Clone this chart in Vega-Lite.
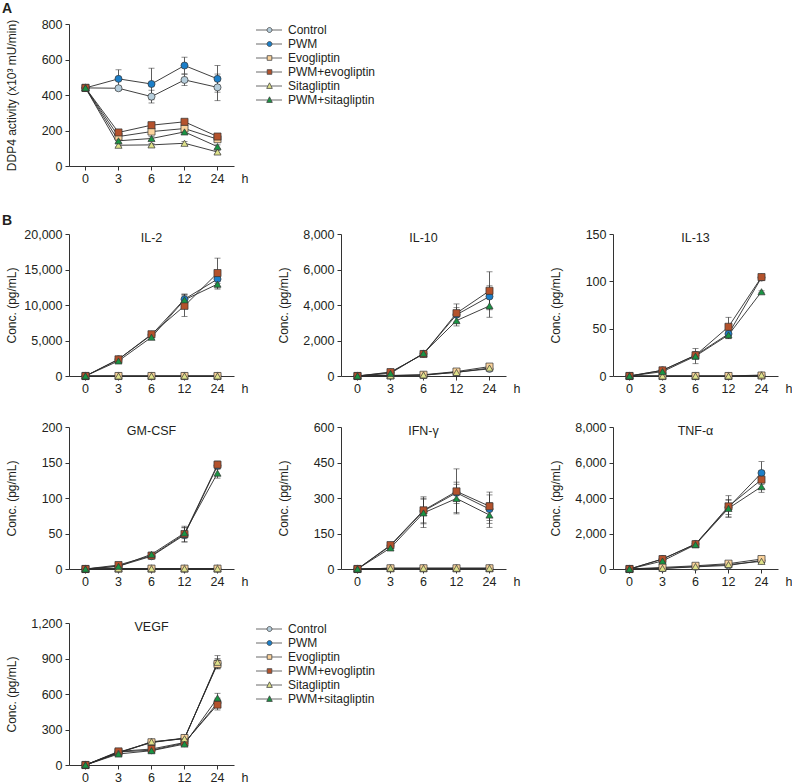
{
"$schema": "https://vega.github.io/schema/vega-lite/v6.json",
"padding": {"left": 2, "top": 1, "right": 0, "bottom": 0},
"background": "white",
"data": {"values": [
{"panel":"DDP4","group":"Control","hour":0,"value":440,"err":8},
{"panel":"DDP4","group":"Control","hour":3,"value":438,"err":12},
{"panel":"DDP4","group":"Control","hour":6,"value":391,"err":36},
{"panel":"DDP4","group":"Control","hour":12,"value":485,"err":32},
{"panel":"DDP4","group":"Control","hour":24,"value":443,"err":75},
{"panel":"DDP4","group":"PWM","hour":0,"value":440,"err":8},
{"panel":"DDP4","group":"PWM","hour":3,"value":491,"err":51},
{"panel":"DDP4","group":"PWM","hour":6,"value":462,"err":89},
{"panel":"DDP4","group":"PWM","hour":12,"value":566,"err":47},
{"panel":"DDP4","group":"PWM","hour":24,"value":491,"err":75},
{"panel":"DDP4","group":"Evogliptin","hour":0,"value":440,"err":5},
{"panel":"DDP4","group":"Evogliptin","hour":3,"value":166,"err":10},
{"panel":"DDP4","group":"Evogliptin","hour":6,"value":194,"err":12},
{"panel":"DDP4","group":"Evogliptin","hour":12,"value":211,"err":12},
{"panel":"DDP4","group":"Evogliptin","hour":24,"value":151,"err":10},
{"panel":"DDP4","group":"PWM+evogliptin","hour":0,"value":440,"err":5},
{"panel":"DDP4","group":"PWM+evogliptin","hour":3,"value":189,"err":10},
{"panel":"DDP4","group":"PWM+evogliptin","hour":6,"value":230,"err":12},
{"panel":"DDP4","group":"PWM+evogliptin","hour":12,"value":249,"err":12},
{"panel":"DDP4","group":"PWM+evogliptin","hour":24,"value":166,"err":10},
{"panel":"DDP4","group":"Sitagliptin","hour":0,"value":440,"err":5},
{"panel":"DDP4","group":"Sitagliptin","hour":3,"value":117,"err":8},
{"panel":"DDP4","group":"Sitagliptin","hour":6,"value":119,"err":8},
{"panel":"DDP4","group":"Sitagliptin","hour":12,"value":128,"err":10},
{"panel":"DDP4","group":"Sitagliptin","hour":24,"value":79,"err":8},
{"panel":"DDP4","group":"PWM+sitagliptin","hour":0,"value":440,"err":5},
{"panel":"DDP4","group":"PWM+sitagliptin","hour":3,"value":142,"err":10},
{"panel":"DDP4","group":"PWM+sitagliptin","hour":6,"value":155,"err":10},
{"panel":"DDP4","group":"PWM+sitagliptin","hour":12,"value":192,"err":12},
{"panel":"DDP4","group":"PWM+sitagliptin","hour":24,"value":109,"err":10},

{"panel":"IL-2","group":"Control","hour":0,"value":0,"err":0},
{"panel":"IL-2","group":"Control","hour":3,"value":0,"err":0},
{"panel":"IL-2","group":"Control","hour":6,"value":0,"err":0},
{"panel":"IL-2","group":"Control","hour":12,"value":0,"err":0},
{"panel":"IL-2","group":"Control","hour":24,"value":0,"err":0},
{"panel":"IL-2","group":"PWM","hour":0,"value":0,"err":0},
{"panel":"IL-2","group":"PWM","hour":3,"value":2350,"err":300},
{"panel":"IL-2","group":"PWM","hour":6,"value":5790,"err":300},
{"panel":"IL-2","group":"PWM","hour":12,"value":10820,"err":700},
{"panel":"IL-2","group":"PWM","hour":24,"value":13650,"err":600},
{"panel":"IL-2","group":"Evogliptin","hour":0,"value":0,"err":0},
{"panel":"IL-2","group":"Evogliptin","hour":3,"value":0,"err":0},
{"panel":"IL-2","group":"Evogliptin","hour":6,"value":0,"err":0},
{"panel":"IL-2","group":"Evogliptin","hour":12,"value":0,"err":0},
{"panel":"IL-2","group":"Evogliptin","hour":24,"value":0,"err":0},
{"panel":"IL-2","group":"PWM+evogliptin","hour":0,"value":0,"err":0},
{"panel":"IL-2","group":"PWM+evogliptin","hour":3,"value":2350,"err":300},
{"panel":"IL-2","group":"PWM+evogliptin","hour":6,"value":5880,"err":300},
{"panel":"IL-2","group":"PWM+evogliptin","hour":12,"value":9880,"err":1500},
{"panel":"IL-2","group":"PWM+evogliptin","hour":24,"value":14500,"err":2100},
{"panel":"IL-2","group":"Sitagliptin","hour":0,"value":0,"err":0},
{"panel":"IL-2","group":"Sitagliptin","hour":3,"value":0,"err":0},
{"panel":"IL-2","group":"Sitagliptin","hour":6,"value":0,"err":0},
{"panel":"IL-2","group":"Sitagliptin","hour":12,"value":0,"err":0},
{"panel":"IL-2","group":"Sitagliptin","hour":24,"value":0,"err":0},
{"panel":"IL-2","group":"PWM+sitagliptin","hour":0,"value":0,"err":0},
{"panel":"IL-2","group":"PWM+sitagliptin","hour":3,"value":2120,"err":250},
{"panel":"IL-2","group":"PWM+sitagliptin","hour":6,"value":5460,"err":300},
{"panel":"IL-2","group":"PWM+sitagliptin","hour":12,"value":10730,"err":800},
{"panel":"IL-2","group":"PWM+sitagliptin","hour":24,"value":12940,"err":700},

{"panel":"IL-10","group":"Control","hour":0,"value":0,"err":0},
{"panel":"IL-10","group":"Control","hour":3,"value":20,"err":0},
{"panel":"IL-10","group":"Control","hour":6,"value":40,"err":0},
{"panel":"IL-10","group":"Control","hour":12,"value":220,"err":40},
{"panel":"IL-10","group":"Control","hour":24,"value":400,"err":60},
{"panel":"IL-10","group":"PWM","hour":0,"value":0,"err":0},
{"panel":"IL-10","group":"PWM","hour":3,"value":200,"err":50},
{"panel":"IL-10","group":"PWM","hour":6,"value":1250,"err":100},
{"panel":"IL-10","group":"PWM","hour":12,"value":3450,"err":400},
{"panel":"IL-10","group":"PWM","hour":24,"value":4480,"err":600},
{"panel":"IL-10","group":"Evogliptin","hour":0,"value":0,"err":0},
{"panel":"IL-10","group":"Evogliptin","hour":3,"value":30,"err":0},
{"panel":"IL-10","group":"Evogliptin","hour":6,"value":70,"err":0},
{"panel":"IL-10","group":"Evogliptin","hour":12,"value":250,"err":50},
{"panel":"IL-10","group":"Evogliptin","hour":24,"value":530,"err":100},
{"panel":"IL-10","group":"PWM+evogliptin","hour":0,"value":0,"err":0},
{"panel":"IL-10","group":"PWM+evogliptin","hour":3,"value":220,"err":50},
{"panel":"IL-10","group":"PWM+evogliptin","hour":6,"value":1240,"err":100},
{"panel":"IL-10","group":"PWM+evogliptin","hour":12,"value":3540,"err":520},
{"panel":"IL-10","group":"PWM+evogliptin","hour":24,"value":4800,"err":1070},
{"panel":"IL-10","group":"Sitagliptin","hour":0,"value":0,"err":0},
{"panel":"IL-10","group":"Sitagliptin","hour":3,"value":20,"err":0},
{"panel":"IL-10","group":"Sitagliptin","hour":6,"value":60,"err":0},
{"panel":"IL-10","group":"Sitagliptin","hour":12,"value":200,"err":40},
{"panel":"IL-10","group":"Sitagliptin","hour":24,"value":450,"err":80},
{"panel":"IL-10","group":"PWM+sitagliptin","hour":0,"value":0,"err":0},
{"panel":"IL-10","group":"PWM+sitagliptin","hour":3,"value":150,"err":40},
{"panel":"IL-10","group":"PWM+sitagliptin","hour":6,"value":1280,"err":100},
{"panel":"IL-10","group":"PWM+sitagliptin","hour":12,"value":3120,"err":300},
{"panel":"IL-10","group":"PWM+sitagliptin","hour":24,"value":3950,"err":640},

{"panel":"IL-13","group":"Control","hour":0,"value":0,"err":0},
{"panel":"IL-13","group":"Control","hour":3,"value":0,"err":0},
{"panel":"IL-13","group":"Control","hour":6,"value":0,"err":0},
{"panel":"IL-13","group":"Control","hour":12,"value":0,"err":0},
{"panel":"IL-13","group":"Control","hour":24,"value":0.5,"err":0},
{"panel":"IL-13","group":"PWM","hour":0,"value":0,"err":0},
{"panel":"IL-13","group":"PWM","hour":3,"value":6,"err":1},
{"panel":"IL-13","group":"PWM","hour":6,"value":22,"err":3},
{"panel":"IL-13","group":"PWM","hour":12,"value":44.5,"err":5},
{"panel":"IL-13","group":"PWM","hour":24,"value":104,"err":2},
{"panel":"IL-13","group":"Evogliptin","hour":0,"value":0,"err":0},
{"panel":"IL-13","group":"Evogliptin","hour":3,"value":0,"err":0},
{"panel":"IL-13","group":"Evogliptin","hour":6,"value":0,"err":0},
{"panel":"IL-13","group":"Evogliptin","hour":12,"value":0,"err":0},
{"panel":"IL-13","group":"Evogliptin","hour":24,"value":0.5,"err":0},
{"panel":"IL-13","group":"PWM+evogliptin","hour":0,"value":0,"err":0},
{"panel":"IL-13","group":"PWM+evogliptin","hour":3,"value":6,"err":1},
{"panel":"IL-13","group":"PWM+evogliptin","hour":6,"value":21.9,"err":4},
{"panel":"IL-13","group":"PWM+evogliptin","hour":12,"value":52,"err":10},
{"panel":"IL-13","group":"PWM+evogliptin","hour":24,"value":104.5,"err":2},
{"panel":"IL-13","group":"Sitagliptin","hour":0,"value":0,"err":0},
{"panel":"IL-13","group":"Sitagliptin","hour":3,"value":0,"err":0},
{"panel":"IL-13","group":"Sitagliptin","hour":6,"value":0,"err":0},
{"panel":"IL-13","group":"Sitagliptin","hour":12,"value":0,"err":0},
{"panel":"IL-13","group":"Sitagliptin","hour":24,"value":1,"err":0},
{"panel":"IL-13","group":"PWM+sitagliptin","hour":0,"value":0,"err":0},
{"panel":"IL-13","group":"PWM+sitagliptin","hour":3,"value":4.6,"err":1},
{"panel":"IL-13","group":"PWM+sitagliptin","hour":6,"value":21,"err":8},
{"panel":"IL-13","group":"PWM+sitagliptin","hour":12,"value":43.4,"err":4},
{"panel":"IL-13","group":"PWM+sitagliptin","hour":24,"value":89,"err":1},

{"panel":"GM-CSF","group":"Control","hour":0,"value":0,"err":0},
{"panel":"GM-CSF","group":"Control","hour":3,"value":0.5,"err":0},
{"panel":"GM-CSF","group":"Control","hour":6,"value":0.5,"err":0},
{"panel":"GM-CSF","group":"Control","hour":12,"value":0.5,"err":0},
{"panel":"GM-CSF","group":"Control","hour":24,"value":0.5,"err":0},
{"panel":"GM-CSF","group":"PWM","hour":0,"value":0,"err":0},
{"panel":"GM-CSF","group":"PWM","hour":3,"value":4,"err":1},
{"panel":"GM-CSF","group":"PWM","hour":6,"value":18,"err":3},
{"panel":"GM-CSF","group":"PWM","hour":12,"value":48,"err":10},
{"panel":"GM-CSF","group":"PWM","hour":24,"value":145.5,"err":5},
{"panel":"GM-CSF","group":"Evogliptin","hour":0,"value":0,"err":0},
{"panel":"GM-CSF","group":"Evogliptin","hour":3,"value":0.5,"err":0},
{"panel":"GM-CSF","group":"Evogliptin","hour":6,"value":0.5,"err":0},
{"panel":"GM-CSF","group":"Evogliptin","hour":12,"value":0.5,"err":0},
{"panel":"GM-CSF","group":"Evogliptin","hour":24,"value":0.5,"err":0},
{"panel":"GM-CSF","group":"PWM+evogliptin","hour":0,"value":0,"err":0},
{"panel":"GM-CSF","group":"PWM+evogliptin","hour":3,"value":5.6,"err":1},
{"panel":"GM-CSF","group":"PWM+evogliptin","hour":6,"value":18.8,"err":4},
{"panel":"GM-CSF","group":"PWM+evogliptin","hour":12,"value":49.3,"err":11},
{"panel":"GM-CSF","group":"PWM+evogliptin","hour":24,"value":147,"err":5},
{"panel":"GM-CSF","group":"Sitagliptin","hour":0,"value":0,"err":0},
{"panel":"GM-CSF","group":"Sitagliptin","hour":3,"value":0.5,"err":0},
{"panel":"GM-CSF","group":"Sitagliptin","hour":6,"value":0.5,"err":0},
{"panel":"GM-CSF","group":"Sitagliptin","hour":12,"value":0.5,"err":0},
{"panel":"GM-CSF","group":"Sitagliptin","hour":24,"value":0.5,"err":0},
{"panel":"GM-CSF","group":"PWM+sitagliptin","hour":0,"value":0,"err":0},
{"panel":"GM-CSF","group":"PWM+sitagliptin","hour":3,"value":3.8,"err":1},
{"panel":"GM-CSF","group":"PWM+sitagliptin","hour":6,"value":20.7,"err":3},
{"panel":"GM-CSF","group":"PWM+sitagliptin","hour":12,"value":50.7,"err":8},
{"panel":"GM-CSF","group":"PWM+sitagliptin","hour":24,"value":135,"err":7},

{"panel":"IFN-γ","group":"Control","hour":0,"value":0,"err":0},
{"panel":"IFN-γ","group":"Control","hour":3,"value":3,"err":0},
{"panel":"IFN-γ","group":"Control","hour":6,"value":3,"err":0},
{"panel":"IFN-γ","group":"Control","hour":12,"value":3,"err":0},
{"panel":"IFN-γ","group":"Control","hour":24,"value":3,"err":0},
{"panel":"IFN-γ","group":"PWM","hour":0,"value":0,"err":0},
{"panel":"IFN-γ","group":"PWM","hour":3,"value":98,"err":8},
{"panel":"IFN-γ","group":"PWM","hour":6,"value":245,"err":50},
{"panel":"IFN-γ","group":"PWM","hour":12,"value":322,"err":45},
{"panel":"IFN-γ","group":"PWM","hour":24,"value":253,"err":60},
{"panel":"IFN-γ","group":"Evogliptin","hour":0,"value":0,"err":0},
{"panel":"IFN-γ","group":"Evogliptin","hour":3,"value":3,"err":0},
{"panel":"IFN-γ","group":"Evogliptin","hour":6,"value":3,"err":0},
{"panel":"IFN-γ","group":"Evogliptin","hour":12,"value":3,"err":0},
{"panel":"IFN-γ","group":"Evogliptin","hour":24,"value":3,"err":0},
{"panel":"IFN-γ","group":"PWM+evogliptin","hour":0,"value":0,"err":0},
{"panel":"IFN-γ","group":"PWM+evogliptin","hour":3,"value":101,"err":8},
{"panel":"IFN-γ","group":"PWM+evogliptin","hour":6,"value":248,"err":57},
{"panel":"IFN-γ","group":"PWM+evogliptin","hour":12,"value":328,"err":95},
{"panel":"IFN-γ","group":"PWM+evogliptin","hour":24,"value":265,"err":60},
{"panel":"IFN-γ","group":"Sitagliptin","hour":0,"value":0,"err":0},
{"panel":"IFN-γ","group":"Sitagliptin","hour":3,"value":3,"err":0},
{"panel":"IFN-γ","group":"Sitagliptin","hour":6,"value":3,"err":0},
{"panel":"IFN-γ","group":"Sitagliptin","hour":12,"value":3,"err":0},
{"panel":"IFN-γ","group":"Sitagliptin","hour":24,"value":3,"err":0},
{"panel":"IFN-γ","group":"PWM+sitagliptin","hour":0,"value":0,"err":0},
{"panel":"IFN-γ","group":"PWM+sitagliptin","hour":3,"value":89,"err":8},
{"panel":"IFN-γ","group":"PWM+sitagliptin","hour":6,"value":237,"err":62},
{"panel":"IFN-γ","group":"PWM+sitagliptin","hour":12,"value":298,"err":60},
{"panel":"IFN-γ","group":"PWM+sitagliptin","hour":24,"value":228,"err":52},

{"panel":"TNF-α","group":"Control","hour":0,"value":0,"err":0},
{"panel":"TNF-α","group":"Control","hour":3,"value":30,"err":0},
{"panel":"TNF-α","group":"Control","hour":6,"value":120,"err":20},
{"panel":"TNF-α","group":"Control","hour":12,"value":200,"err":30},
{"panel":"TNF-α","group":"Control","hour":24,"value":480,"err":60},
{"panel":"TNF-α","group":"PWM","hour":0,"value":0,"err":0},
{"panel":"TNF-α","group":"PWM","hour":3,"value":563,"err":60},
{"panel":"TNF-α","group":"PWM","hour":6,"value":1408,"err":80},
{"panel":"TNF-α","group":"PWM","hour":12,"value":3474,"err":400},
{"panel":"TNF-α","group":"PWM","hour":24,"value":5409,"err":640},
{"panel":"TNF-α","group":"Evogliptin","hour":0,"value":0,"err":0},
{"panel":"TNF-α","group":"Evogliptin","hour":3,"value":90,"err":0},
{"panel":"TNF-α","group":"Evogliptin","hour":6,"value":180,"err":20},
{"panel":"TNF-α","group":"Evogliptin","hour":12,"value":300,"err":30},
{"panel":"TNF-α","group":"Evogliptin","hour":24,"value":560,"err":80},
{"panel":"TNF-α","group":"PWM+evogliptin","hour":0,"value":0,"err":0},
{"panel":"TNF-α","group":"PWM+evogliptin","hour":3,"value":560,"err":60},
{"panel":"TNF-α","group":"PWM+evogliptin","hour":6,"value":1400,"err":80},
{"panel":"TNF-α","group":"PWM+evogliptin","hour":12,"value":3530,"err":600},
{"panel":"TNF-α","group":"PWM+evogliptin","hour":24,"value":5033,"err":500},
{"panel":"TNF-α","group":"Sitagliptin","hour":0,"value":0,"err":0},
{"panel":"TNF-α","group":"Sitagliptin","hour":3,"value":40,"err":0},
{"panel":"TNF-α","group":"Sitagliptin","hour":6,"value":140,"err":20},
{"panel":"TNF-α","group":"Sitagliptin","hour":12,"value":250,"err":30},
{"panel":"TNF-α","group":"Sitagliptin","hour":24,"value":430,"err":60},
{"panel":"TNF-α","group":"PWM+sitagliptin","hour":0,"value":0,"err":0},
{"panel":"TNF-α","group":"PWM+sitagliptin","hour":3,"value":450,"err":60},
{"panel":"TNF-α","group":"PWM+sitagliptin","hour":6,"value":1370,"err":80},
{"panel":"TNF-α","group":"PWM+sitagliptin","hour":12,"value":3418,"err":500},
{"panel":"TNF-α","group":"PWM+sitagliptin","hour":24,"value":4640,"err":320},

{"panel":"VEGF","group":"Control","hour":0,"value":0,"err":0},
{"panel":"VEGF","group":"Control","hour":3,"value":105,"err":10},
{"panel":"VEGF","group":"Control","hour":6,"value":190,"err":15},
{"panel":"VEGF","group":"Control","hour":12,"value":225,"err":20},
{"panel":"VEGF","group":"Control","hour":24,"value":860,"err":40},
{"panel":"VEGF","group":"PWM","hour":0,"value":0,"err":0},
{"panel":"VEGF","group":"PWM","hour":3,"value":110,"err":10},
{"panel":"VEGF","group":"PWM","hour":6,"value":125,"err":15},
{"panel":"VEGF","group":"PWM","hour":12,"value":185,"err":15},
{"panel":"VEGF","group":"PWM","hour":24,"value":525,"err":40},
{"panel":"VEGF","group":"Evogliptin","hour":0,"value":0,"err":0},
{"panel":"VEGF","group":"Evogliptin","hour":3,"value":108,"err":10},
{"panel":"VEGF","group":"Evogliptin","hour":6,"value":192,"err":15},
{"panel":"VEGF","group":"Evogliptin","hour":12,"value":228,"err":15},
{"panel":"VEGF","group":"Evogliptin","hour":24,"value":853,"err":35},
{"panel":"VEGF","group":"PWM+evogliptin","hour":0,"value":0,"err":0},
{"panel":"VEGF","group":"PWM+evogliptin","hour":3,"value":115,"err":10},
{"panel":"VEGF","group":"PWM+evogliptin","hour":6,"value":135,"err":15},
{"panel":"VEGF","group":"PWM+evogliptin","hour":12,"value":190,"err":15},
{"panel":"VEGF","group":"PWM+evogliptin","hour":24,"value":510,"err":45},
{"panel":"VEGF","group":"Sitagliptin","hour":0,"value":0,"err":0},
{"panel":"VEGF","group":"Sitagliptin","hour":3,"value":100,"err":10},
{"panel":"VEGF","group":"Sitagliptin","hour":6,"value":197,"err":15},
{"panel":"VEGF","group":"Sitagliptin","hour":12,"value":222,"err":15},
{"panel":"VEGF","group":"Sitagliptin","hour":24,"value":868,"err":56},
{"panel":"VEGF","group":"PWM+sitagliptin","hour":0,"value":0,"err":0},
{"panel":"VEGF","group":"PWM+sitagliptin","hour":3,"value":93,"err":10},
{"panel":"VEGF","group":"PWM+sitagliptin","hour":6,"value":121,"err":15},
{"panel":"VEGF","group":"PWM+sitagliptin","hour":12,"value":177,"err":15},
{"panel":"VEGF","group":"PWM+sitagliptin","hour":24,"value":566,"err":40}
]},
"config": {
  "font": "Liberation Sans",
  "view": {"stroke": null},
  "axis": {"grid": false, "domainColor": "#333333", "tickColor": "#333333", "tickSize": 4, "labelFontSize": 12.5, "labelColor": "#231f20", "titleFontSize": 12, "titleFontWeight": "normal", "titleColor": "#231f20", "labelPadding": 3, "domainWidth": 1, "tickWidth": 1, "labelFont": "Liberation Sans", "titleFont": "Liberation Sans"},
  "axisY": {"minExtent": 47, "maxExtent": 47, "titlePadding": 4},
  "axisX": {"labelAngle": 0, "labelPadding": 2},
  "title": {"fontSize": 12.5, "fontWeight": "normal", "color": "#231f20", "font": "Liberation Sans"},
  "legend": {"title": null, "padding": 0, "labelOffset": 24, "symbolSize": 64, "rowPadding": 2, "labelFontSize": 12, "labelFont": "Liberation Sans", "labelColor": "#231f20", "symbolStrokeWidth": 0.8, "symbolStrokeColor": "#444444"}
},
"resolve": {"legend": {"color": "independent", "shape": "independent"}},
"spacing": 29,
"vconcat": [
{
  "width": 165, "height": 142,
  "title": {"text": "A", "anchor": "start", "frame": "bounds", "fontSize": 14, "fontWeight": "bold", "baseline": "alphabetic", "offset": -8.5, "dx": -3},
  "transform": [{"filter": {"field": "panel", "equal": "DDP4"}}],
  "encoding": {
    "x": {"field": "hour", "type": "ordinal", "axis": {"title": "h", "titleX": 172, "titleY": 6, "titleAlign": "left", "titleBaseline": "top", "titleAngle": 0, "titleFontSize": 12.5, "titleColor": "#231f20"}},
    "y": {"field": "value", "type": "quantitative", "scale": {"domain": [0, 800]}, "axis": {"title": "DDP4 activity (x10³ mU/min)", "values": [0, 200, 400, 600, 800], "format": ",.0f"}}
  },
  "resolve": {"scale": {"color": "independent", "shape": "independent"}},
  "layer": [
    {"transform": [{"filter": "datum.err > 0"}], "mark": {"type": "errorbar", "ticks": true, "size": 6, "thickness": 0.8, "color": "#333333"}, "encoding": {"yError": {"field": "err"}}},
    {"mark": {"type": "line", "color": "#2a2a2a", "strokeWidth": 0.9}, "encoding": {"detail": {"field": "group"}}},
    {"mark": {"type": "point", "filled": true, "size": 50, "stroke": "#333333", "strokeWidth": 0.7, "opacity": 1},
     "encoding": {
       "color": {"field": "group", "type": "nominal", "scale": {"domain": ["Control","PWM","Evogliptin","PWM+evogliptin","Sitagliptin","PWM+sitagliptin"], "range": ["#b5cddb","#1c7fc9","#fbd39c","#b4522c","#dfe28a","#199443"]}, "legend": null},
       "shape": {"field": "group", "type": "nominal", "scale": {"domain": ["Control","PWM","Evogliptin","PWM+evogliptin","Sitagliptin","PWM+sitagliptin"], "range": ["circle","circle","square","square","triangle-up","triangle-up"]}, "legend": null}
     }},
    {"transform": [{"filter": "false"}],
     "mark": {"type": "point", "filled": true, "opacity": 1, "stroke": "#444444", "strokeWidth": 0.8},
     "encoding": {
       "color": {"field": "group", "type": "nominal", "scale": {"domain": ["Control","PWM","Evogliptin","PWM+evogliptin","Sitagliptin","PWM+sitagliptin"], "range": ["#b5cddb","#1c7fc9","#fbd39c","#b4522c","#dfe28a","#199443"]}, "legend": {"title": null}},
       "shape": {"field": "group", "type": "nominal", "scale": {"domain": ["Control","PWM","Evogliptin","PWM+evogliptin","Sitagliptin","PWM+sitagliptin"], "range": [
         "M-0.5,0H2.255M3.495,0H6M3.495,0A0.62,0.62,0,1,1,2.255,0A0.62,0.62,0,1,1,3.495,0Z",
         "M-0.5,0H2.255M3.495,0H6M3.495,0A0.62,0.62,0,1,1,2.255,0A0.62,0.62,0,1,1,3.495,0Z",
         "M-0.5,0H2.295M3.455,0H6M2.295,-0.58H3.455V0.58H2.295Z",
         "M-0.5,0H2.295M3.455,0H6M2.295,-0.58H3.455V0.58H2.295Z",
         "M-0.5,0H2.475M3.275,0H6M2.875,-0.8L3.575,0.6H2.175Z",
         "M-0.5,0H2.475M3.275,0H6M2.875,-0.8L3.575,0.6H2.175Z"]}, "legend": {"title": null}}
     }}
  ]
},
{
  "spacing": 26,
  "resolve": {"legend": {"color": "independent", "shape": "independent"}},
  "vconcat": [
  {
    "title": {"text": "B", "anchor": "start", "frame": "bounds", "fontSize": 14, "fontWeight": "bold", "baseline": "alphabetic", "offset": -11, "dx": -3},
    "spacing": 29,
    "resolve": {"legend": {"color": "independent", "shape": "independent"}},
    "hconcat": [
    {
      "width": 165, "height": 142,
      "title": {"text": "IL-2", "offset": -22, "baseline": "middle", "frame": "group"},
      "transform": [{"filter": {"field": "panel", "equal": "IL-2"}}],
      "encoding": {
        "x": {"field": "hour", "type": "ordinal", "axis": {"title": "h", "titleX": 172, "titleY": 6, "titleAlign": "left", "titleBaseline": "top", "titleAngle": 0, "titleFontSize": 12.5, "titleColor": "#231f20"}},
        "y": {"field": "value", "type": "quantitative", "scale": {"domain": [0, 20000]}, "axis": {"title": "Conc. (pg/mL)", "values": [0, 5000, 10000, 15000, 20000], "format": ",.0f"}}
      },
      "layer": [
        {"transform": [{"filter": "datum.err > 0"}], "mark": {"type": "errorbar", "ticks": true, "size": 6, "thickness": 0.8, "color": "#333333"}, "encoding": {"yError": {"field": "err"}}},
        {"mark": {"type": "line", "color": "#2a2a2a", "strokeWidth": 0.9}, "encoding": {"detail": {"field": "group"}}},
        {"mark": {"type": "point", "filled": true, "size": 50, "stroke": "#333333", "strokeWidth": 0.7, "opacity": 1},
         "encoding": {
           "color": {"field": "group", "type": "nominal", "scale": {"domain": ["Control","PWM","Evogliptin","PWM+evogliptin","Sitagliptin","PWM+sitagliptin"], "range": ["#b5cddb","#1c7fc9","#fbd39c","#b4522c","#dfe28a","#199443"]}, "legend": null},
           "shape": {"field": "group", "type": "nominal", "scale": {"domain": ["PWM","Control","PWM+evogliptin","Evogliptin","PWM+sitagliptin","Sitagliptin"], "range": ["circle","circle","square","square","triangle-up","triangle-up"]}, "legend": null}
         }}
      ]
    },
    {
      "width": 165, "height": 142,
      "title": {"text": "IL-10", "offset": -22, "baseline": "middle", "frame": "group"},
      "transform": [{"filter": {"field": "panel", "equal": "IL-10"}}],
      "encoding": {
        "x": {"field": "hour", "type": "ordinal", "axis": {"title": "h", "titleX": 172, "titleY": 6, "titleAlign": "left", "titleBaseline": "top", "titleAngle": 0, "titleFontSize": 12.5, "titleColor": "#231f20"}},
        "y": {"field": "value", "type": "quantitative", "scale": {"domain": [0, 8000]}, "axis": {"title": "Conc. (pg/mL)", "values": [0, 2000, 4000, 6000, 8000], "format": ",.0f"}}
      },
      "layer": [
        {"transform": [{"filter": "datum.err > 0"}], "mark": {"type": "errorbar", "ticks": true, "size": 6, "thickness": 0.8, "color": "#333333"}, "encoding": {"yError": {"field": "err"}}},
        {"mark": {"type": "line", "color": "#2a2a2a", "strokeWidth": 0.9}, "encoding": {"detail": {"field": "group"}}},
        {"mark": {"type": "point", "filled": true, "size": 50, "stroke": "#333333", "strokeWidth": 0.7, "opacity": 1},
         "encoding": {
           "color": {"field": "group", "type": "nominal", "scale": {"domain": ["Control","PWM","Evogliptin","PWM+evogliptin","Sitagliptin","PWM+sitagliptin"], "range": ["#b5cddb","#1c7fc9","#fbd39c","#b4522c","#dfe28a","#199443"]}, "legend": null},
           "shape": {"field": "group", "type": "nominal", "scale": {"domain": ["PWM","Control","PWM+evogliptin","Evogliptin","PWM+sitagliptin","Sitagliptin"], "range": ["circle","circle","square","square","triangle-up","triangle-up"]}, "legend": null}
         }}
      ]
    },
    {
      "width": 165, "height": 142,
      "title": {"text": "IL-13", "offset": -22, "baseline": "middle", "frame": "group"},
      "transform": [{"filter": {"field": "panel", "equal": "IL-13"}}],
      "encoding": {
        "x": {"field": "hour", "type": "ordinal", "axis": {"title": "h", "titleX": 172, "titleY": 6, "titleAlign": "left", "titleBaseline": "top", "titleAngle": 0, "titleFontSize": 12.5, "titleColor": "#231f20"}},
        "y": {"field": "value", "type": "quantitative", "scale": {"domain": [0, 150]}, "axis": {"title": "Conc. (pg/mL)", "values": [0, 50, 100, 150], "format": ",.0f"}}
      },
      "layer": [
        {"transform": [{"filter": "datum.err > 0"}], "mark": {"type": "errorbar", "ticks": true, "size": 6, "thickness": 0.8, "color": "#333333"}, "encoding": {"yError": {"field": "err"}}},
        {"mark": {"type": "line", "color": "#2a2a2a", "strokeWidth": 0.9}, "encoding": {"detail": {"field": "group"}}},
        {"mark": {"type": "point", "filled": true, "size": 50, "stroke": "#333333", "strokeWidth": 0.7, "opacity": 1},
         "encoding": {
           "color": {"field": "group", "type": "nominal", "scale": {"domain": ["Control","PWM","Evogliptin","PWM+evogliptin","Sitagliptin","PWM+sitagliptin"], "range": ["#b5cddb","#1c7fc9","#fbd39c","#b4522c","#dfe28a","#199443"]}, "legend": null},
           "shape": {"field": "group", "type": "nominal", "scale": {"domain": ["PWM","Control","PWM+evogliptin","Evogliptin","PWM+sitagliptin","Sitagliptin"], "range": ["circle","circle","square","square","triangle-up","triangle-up"]}, "legend": null}
         }}
      ]
    }
    ]
  },
  {
    "spacing": 29,
    "resolve": {"legend": {"color": "independent", "shape": "independent"}},
    "vconcat": [
    {
      "spacing": 29,
      "resolve": {"legend": {"color": "independent", "shape": "independent"}},
      "hconcat": [
      {
        "width": 165, "height": 142,
        "title": {"text": "GM-CSF", "offset": -22, "baseline": "middle", "frame": "group"},
        "transform": [{"filter": {"field": "panel", "equal": "GM-CSF"}}],
        "encoding": {
          "x": {"field": "hour", "type": "ordinal", "axis": {"title": "h", "titleX": 172, "titleY": 6, "titleAlign": "left", "titleBaseline": "top", "titleAngle": 0, "titleFontSize": 12.5, "titleColor": "#231f20"}},
          "y": {"field": "value", "type": "quantitative", "scale": {"domain": [0, 200]}, "axis": {"title": "Conc. (pg/mL)", "values": [0, 50, 100, 150, 200], "format": ",.0f"}}
        },
        "layer": [
          {"transform": [{"filter": "datum.err > 0"}], "mark": {"type": "errorbar", "ticks": true, "size": 6, "thickness": 0.8, "color": "#333333"}, "encoding": {"yError": {"field": "err"}}},
          {"mark": {"type": "line", "color": "#2a2a2a", "strokeWidth": 0.9}, "encoding": {"detail": {"field": "group"}}},
          {"mark": {"type": "point", "filled": true, "size": 50, "stroke": "#333333", "strokeWidth": 0.7, "opacity": 1},
           "encoding": {
             "color": {"field": "group", "type": "nominal", "scale": {"domain": ["Control","PWM","Evogliptin","PWM+evogliptin","Sitagliptin","PWM+sitagliptin"], "range": ["#b5cddb","#1c7fc9","#fbd39c","#b4522c","#dfe28a","#199443"]}, "legend": null},
             "shape": {"field": "group", "type": "nominal", "scale": {"domain": ["PWM","Control","PWM+evogliptin","Evogliptin","PWM+sitagliptin","Sitagliptin"], "range": ["circle","circle","square","square","triangle-up","triangle-up"]}, "legend": null}
           }}
        ]
      },
      {
        "width": 165, "height": 142,
        "title": {"text": "IFN-γ", "offset": -22, "baseline": "middle", "frame": "group"},
        "transform": [{"filter": {"field": "panel", "equal": "IFN-γ"}}],
        "encoding": {
          "x": {"field": "hour", "type": "ordinal", "axis": {"title": "h", "titleX": 172, "titleY": 6, "titleAlign": "left", "titleBaseline": "top", "titleAngle": 0, "titleFontSize": 12.5, "titleColor": "#231f20"}},
          "y": {"field": "value", "type": "quantitative", "scale": {"domain": [0, 600]}, "axis": {"title": "Conc. (pg/mL)", "values": [0, 150, 300, 450, 600], "format": ",.0f"}}
        },
        "layer": [
          {"transform": [{"filter": "datum.err > 0"}], "mark": {"type": "errorbar", "ticks": true, "size": 6, "thickness": 0.8, "color": "#333333"}, "encoding": {"yError": {"field": "err"}}},
          {"mark": {"type": "line", "color": "#2a2a2a", "strokeWidth": 0.9}, "encoding": {"detail": {"field": "group"}}},
          {"mark": {"type": "point", "filled": true, "size": 50, "stroke": "#333333", "strokeWidth": 0.7, "opacity": 1},
           "encoding": {
             "color": {"field": "group", "type": "nominal", "scale": {"domain": ["Control","PWM","Evogliptin","PWM+evogliptin","Sitagliptin","PWM+sitagliptin"], "range": ["#b5cddb","#1c7fc9","#fbd39c","#b4522c","#dfe28a","#199443"]}, "legend": null},
             "shape": {"field": "group", "type": "nominal", "scale": {"domain": ["PWM","Control","PWM+evogliptin","Evogliptin","PWM+sitagliptin","Sitagliptin"], "range": ["circle","circle","square","square","triangle-up","triangle-up"]}, "legend": null}
           }}
        ]
      },
      {
        "width": 165, "height": 142,
        "title": {"text": "TNF-α", "offset": -22, "baseline": "middle", "frame": "group"},
        "transform": [{"filter": {"field": "panel", "equal": "TNF-α"}}],
        "encoding": {
          "x": {"field": "hour", "type": "ordinal", "axis": {"title": "h", "titleX": 172, "titleY": 6, "titleAlign": "left", "titleBaseline": "top", "titleAngle": 0, "titleFontSize": 12.5, "titleColor": "#231f20"}},
          "y": {"field": "value", "type": "quantitative", "scale": {"domain": [0, 8000]}, "axis": {"title": "Conc. (pg/mL)", "values": [0, 2000, 4000, 6000, 8000], "format": ",.0f"}}
        },
        "layer": [
          {"transform": [{"filter": "datum.err > 0"}], "mark": {"type": "errorbar", "ticks": true, "size": 6, "thickness": 0.8, "color": "#333333"}, "encoding": {"yError": {"field": "err"}}},
          {"mark": {"type": "line", "color": "#2a2a2a", "strokeWidth": 0.9}, "encoding": {"detail": {"field": "group"}}},
          {"mark": {"type": "point", "filled": true, "size": 50, "stroke": "#333333", "strokeWidth": 0.7, "opacity": 1},
           "encoding": {
             "color": {"field": "group", "type": "nominal", "scale": {"domain": ["Control","PWM","Evogliptin","PWM+evogliptin","Sitagliptin","PWM+sitagliptin"], "range": ["#b5cddb","#1c7fc9","#fbd39c","#b4522c","#dfe28a","#199443"]}, "legend": null},
             "shape": {"field": "group", "type": "nominal", "scale": {"domain": ["PWM","Control","PWM+evogliptin","Evogliptin","PWM+sitagliptin","Sitagliptin"], "range": ["circle","circle","square","square","triangle-up","triangle-up"]}, "legend": null}
           }}
        ]
      }
      ]
    },
    {
      "width": 165, "height": 142,
      "title": {"text": "VEGF", "offset": -22, "baseline": "middle", "frame": "group"},
      "transform": [{"filter": {"field": "panel", "equal": "VEGF"}}],
      "encoding": {
        "x": {"field": "hour", "type": "ordinal", "axis": {"title": "h", "titleX": 172, "titleY": 6, "titleAlign": "left", "titleBaseline": "top", "titleAngle": 0, "titleFontSize": 12.5, "titleColor": "#231f20"}},
        "y": {"field": "value", "type": "quantitative", "scale": {"domain": [0, 1200]}, "axis": {"title": "Conc. (pg/mL)", "values": [0, 300, 600, 900, 1200], "format": ",.0f"}}
      },
      "resolve": {"scale": {"color": "independent", "shape": "independent"}},
      "layer": [
        {"transform": [{"filter": "datum.err > 0"}], "mark": {"type": "errorbar", "ticks": true, "size": 6, "thickness": 0.8, "color": "#333333"}, "encoding": {"yError": {"field": "err"}}},
        {"mark": {"type": "line", "color": "#2a2a2a", "strokeWidth": 0.9}, "encoding": {"detail": {"field": "group"}}},
        {"mark": {"type": "point", "filled": true, "size": 50, "stroke": "#333333", "strokeWidth": 0.7, "opacity": 1},
         "encoding": {
           "color": {"field": "group", "type": "nominal", "scale": {"domain": ["Control","PWM","Evogliptin","PWM+evogliptin","Sitagliptin","PWM+sitagliptin"], "range": ["#b5cddb","#1c7fc9","#fbd39c","#b4522c","#dfe28a","#199443"]}, "legend": null},
           "shape": {"field": "group", "type": "nominal", "scale": {"domain": ["Control","PWM","Evogliptin","PWM+evogliptin","Sitagliptin","PWM+sitagliptin"], "range": ["circle","circle","square","square","triangle-up","triangle-up"]}, "legend": null}
         }},
        {"transform": [{"filter": "false"}],
         "mark": {"type": "point", "filled": true, "opacity": 1, "stroke": "#444444", "strokeWidth": 0.8},
         "encoding": {
           "color": {"field": "group", "type": "nominal", "scale": {"domain": ["Control","PWM","Evogliptin","PWM+evogliptin","Sitagliptin","PWM+sitagliptin"], "range": ["#b5cddb","#1c7fc9","#fbd39c","#b4522c","#dfe28a","#199443"]}, "legend": {"title": null}},
           "shape": {"field": "group", "type": "nominal", "scale": {"domain": ["Control","PWM","Evogliptin","PWM+evogliptin","Sitagliptin","PWM+sitagliptin"], "range": [
             "M-0.5,0H2.255M3.495,0H6M3.495,0A0.62,0.62,0,1,1,2.255,0A0.62,0.62,0,1,1,3.495,0Z",
             "M-0.5,0H2.255M3.495,0H6M3.495,0A0.62,0.62,0,1,1,2.255,0A0.62,0.62,0,1,1,3.495,0Z",
             "M-0.5,0H2.295M3.455,0H6M2.295,-0.58H3.455V0.58H2.295Z",
             "M-0.5,0H2.295M3.455,0H6M2.295,-0.58H3.455V0.58H2.295Z",
             "M-0.5,0H2.475M3.275,0H6M2.875,-0.8L3.575,0.6H2.175Z",
             "M-0.5,0H2.475M3.275,0H6M2.875,-0.8L3.575,0.6H2.175Z"]}, "legend": {"title": null}}
         }}
      ]
    }
    ]
  }
  ]
}
]
}
